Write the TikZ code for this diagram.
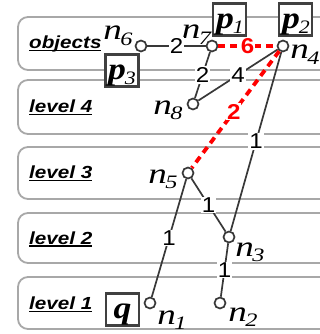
\documentclass[tikz,border=0pt]{standalone}
\usepackage{fontspec}
\setmainfont{Liberation Serif}
\setsansfont{Liberation Sans}
\newfontfamily\bandfont[FakeStretch=1.18]{Liberation Sans}
\newfontfamily\numfont[FakeStretch=1.12]{Liberation Sans}
\newfontfamily\nfont[FakeStretch=1.28]{Liberation Serif}
\newfontfamily\pfont[FakeStretch=1.15]{Liberation Serif}
\definecolor{bandgray}{HTML}{A8A8A8}
\definecolor{edgegray}{HTML}{383838}
\definecolor{boxgray}{HTML}{404040}
\newcommand\myul[1]{\setbox0\hbox{#1}\rlap{\rule[-2.5pt]{\wd0}{1.3pt}}\box0}
\newcommand\nlab[1]{n\kern-1.5pt\raisebox{-5.5pt}{\fontsize{19}{19}\selectfont #1}}
\newcommand\plab[2]{#1\kern-1pt\raisebox{-5.5pt}{\mdseries\fontsize{19}{19}\selectfont #2}}
\begin{document}
\begin{tikzpicture}[x=1pt,y=-1pt,
 band/.style={draw=bandgray, line width=1.8pt, rounded corners=10pt},
 bandlbl/.style={font=\bandfont\bfseries\itshape\fontsize{17.5}{19}\selectfont, anchor=base west, inner sep=0pt},
 vert/.style={circle, draw=edgegray, fill=white, line width=1.7pt, minimum size=11pt, inner sep=0pt},
 nlbl/.style={font=\nfont\itshape\fontsize{29}{31}\selectfont, inner sep=0pt, anchor=base},
 pbox/.style={draw=boxgray, line width=2.5pt, fill=white, minimum width=33pt, minimum height=32pt, inner sep=0pt},
 ptxt/.style={font=\pfont\bfseries\itshape\fontsize{31}{32}\selectfont, inner sep=0pt, anchor=base},
 edge/.style={draw=edgegray, line width=1.7pt},
 redge/.style={draw=red, line width=3.8pt, dash pattern=on 7pt off 5pt},
 wlbl/.style={fill=white, inner sep=1pt, font=\numfont\fontsize{21.5}{23}\selectfont},
 rlbl/.style={fill=white, inner sep=1pt, text=red, font=\numfont\bfseries\fontsize{21.5}{23}\selectfont}
]
\useasboundingbox (0,0) rectangle (320,334);
\clip (0,0) rectangle (320,334);
% bands
\draw[band] (18,17) rectangle (340,70);
\draw[band] (18,80) rectangle (340,134);
\draw[band] (18,147) rectangle (340,199);
\draw[band] (18,213) rectangle (340,263);
\draw[band] (18,277) rectangle (340,329);
\node[bandlbl] (lo) at (29,48.5) {\myul{objects}};
\node[bandlbl] (l4) at (29,112.5) {\myul{level 4}};
\node[bandlbl] (l3) at (29,178.5) {\myul{level 3}};
\node[bandlbl] (l2) at (29,244) {\myul{level 2}};
\node[bandlbl] (l1) at (29,309.5) {\myul{level 1}};
% boxes
\node[pbox] (p1) at (229.5,19.5) {};
\node[pbox] (p2) at (295.5,19.5) {};
\node[pbox] (p3) at (122,70.5) {};
\node[pbox] (q) at (122.5,309.5) {};
\node[ptxt] (p1t) at (230,28.5) {\plab{p}{1}};
\node[ptxt] (p2t) at (296,28.5) {\plab{p}{2}};
\node[ptxt] (p3t) at (122,79.5) {\plab{p}{3}};
\node[ptxt] (qt) at (122.5,318.5) {q};
% vertices
\node[vert] (n6) at (141,46) {};
\node[vert] (n7) at (212,46) {};
\node[vert] (n4) at (283,46) {};
\node[vert] (n8) at (193,104) {};
\node[vert] (n5) at (188,173) {};
\node[vert] (n3) at (229,237) {};
\node[vert] (n1) at (150,303) {};
\node[vert] (n2) at (220,303) {};
% vertex labels
\node[nlbl] (t6) at (118,40) {\nlab{6}};
\node[nlbl] (t7) at (196.5,39) {\nlab{7}};
\node[nlbl] (t4) at (305,59) {\nlab{4}};
\node[nlbl] (t8) at (168,114) {\nlab{8}};
\node[nlbl] (t5) at (163,183) {\nlab{5}};
\node[nlbl] (t3) at (250,256) {\nlab{3}};
\node[nlbl] (t1) at (172,324) {\nlab{1}};
\node[nlbl] (t2) at (243,321) {\nlab{2}};
% edges
\draw[edge] (n6) -- node[wlbl]{2} (n7);
\draw[edge] (n7) -- node[wlbl]{2} (n8);
\draw[edge] (n4) -- node[wlbl]{4} (n8);
\draw[edge] (n4) -- node[wlbl]{1} (n3);
\draw[edge] (n5) -- node[wlbl]{1} (n3);
\draw[edge] (n5) -- node[wlbl]{1} (n1);
\draw[edge] (n3) -- node[wlbl]{1} (n2);
\draw[redge] (n7) -- node[rlbl]{6} (n4);
\draw[redge] (n4) -- node[rlbl,pos=0.52]{2} (n5);
\end{tikzpicture}
\end{document}
